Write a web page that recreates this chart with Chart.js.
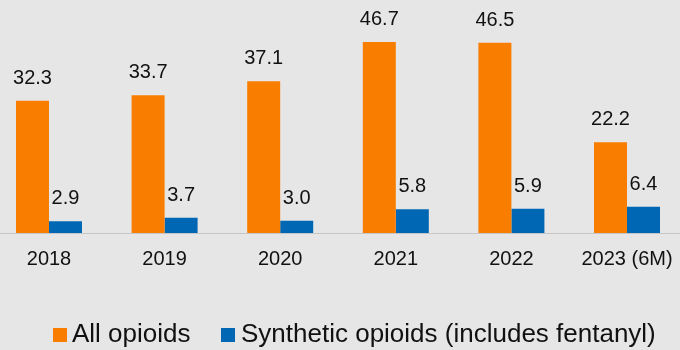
<!DOCTYPE html>
<html>
<head>
<meta charset="utf-8">
<script src="https://cdn.jsdelivr.net/npm/chart.js@4.4.0/dist/chart.umd.min.js"></script>
<style>
  html, body { margin: 0; padding: 0; background: #e6e6e6; }
  #wrap { position: relative; width: 680px; height: 350px; background: #e6e6e6; overflow: hidden; }
  canvas { position: absolute; left: 0; top: 0; }
  .lg { position: absolute; font-family: "Liberation Sans", Arial, sans-serif; font-size: 26px; line-height: 26px; color: #111; white-space: nowrap; }
  .sw { position: absolute; width: 14px; height: 14px; }
</style>
</head>
<body>
<div id="wrap">
  <canvas id="c" width="680" height="350"></canvas>
  <div class="sw" style="left:53px;top:328px;background:#f97e00"></div>
  <div class="lg" id="l1" style="left:72px;top:320px"></div>
  <div class="sw" style="left:221px;top:328px;background:#0067b4"></div>
  <div class="lg" id="l2" style="left:241px;top:320px"></div>
</div>
<script>
const categories = ["2018", "2019", "2020", "2021", "2022", "2023 (6M)"];
const allOpioids = [32.3, 33.7, 37.1, 46.7, 46.5, 22.2];
const syntheticOpioids = [2.9, 3.7, 3.0, 5.8, 5.9, 6.4];
const seriesNames = ["All opioids", "Synthetic opioids (includes fentanyl)"];
const colors = ["#f97e00", "#0067b4"];

document.getElementById("l1").textContent = seriesNames[0];
document.getElementById("l2").textContent = seriesNames[1];

const FONT = '"Liberation Sans", Arial, sans-serif';

const axisLine = {
  id: "axisLine",
  beforeDatasetsDraw(chart) {
    const ctx = chart.ctx;
    const y = Math.round(chart.scales.y.getPixelForValue(0)) + 0.5;
    ctx.save();
    ctx.strokeStyle = "#c6c6c6";
    ctx.lineWidth = 1;
    ctx.beginPath();
    ctx.moveTo(0, y);
    ctx.lineTo(chart.width, y);
    ctx.stroke();
    ctx.restore();
  }
};

const valueLabels = {
  id: "valueLabels",
  afterDatasetsDraw(chart) {
    const ctx = chart.ctx;
    ctx.save();
    ctx.font = "20px " + FONT;
    ctx.fillStyle = "#111";
    ctx.textAlign = "center";
    ctx.textBaseline = "alphabetic";
    chart.data.datasets.forEach((ds, i) => {
      const meta = chart.getDatasetMeta(i);
      meta.data.forEach((el, j) => {
        ctx.fillText(ds.data[j].toFixed(1), el.x, el.y - 17);
      });
    });
    ctx.restore();
  }
};

new Chart(document.getElementById("c"), {
  type: "bar",
  data: {
    labels: categories,
    datasets: [
      { label: seriesNames[0], data: allOpioids, backgroundColor: colors[0], clip: false,
        categoryPercentage: 0.571, barPercentage: 1.0 },
      { label: seriesNames[1], data: syntheticOpioids, backgroundColor: colors[1], clip: false,
        categoryPercentage: 0.571, barPercentage: 1.0 }
    ]
  },
  options: {
    responsive: false,
    animation: false,
    layout: { padding: { left: 49, right: 53, top: 8, bottom: 65 } },
    plugins: { legend: { display: false }, tooltip: { enabled: false } },
    scales: {
      x: {
        offset: false,
        grid: { display: false, drawTicks: false },
        border: { display: false },
        afterFit(s) { s.paddingLeft = 0; s.paddingRight = 0; },
        ticks: { color: "#111", font: { family: FONT, size: 20 }, padding: 14, maxRotation: 0, autoSkip: false }
      },
      y: { display: false, min: 0, max: 55 }
    }
  },
  plugins: [axisLine, valueLabels]
});
</script>
</body>
</html>
